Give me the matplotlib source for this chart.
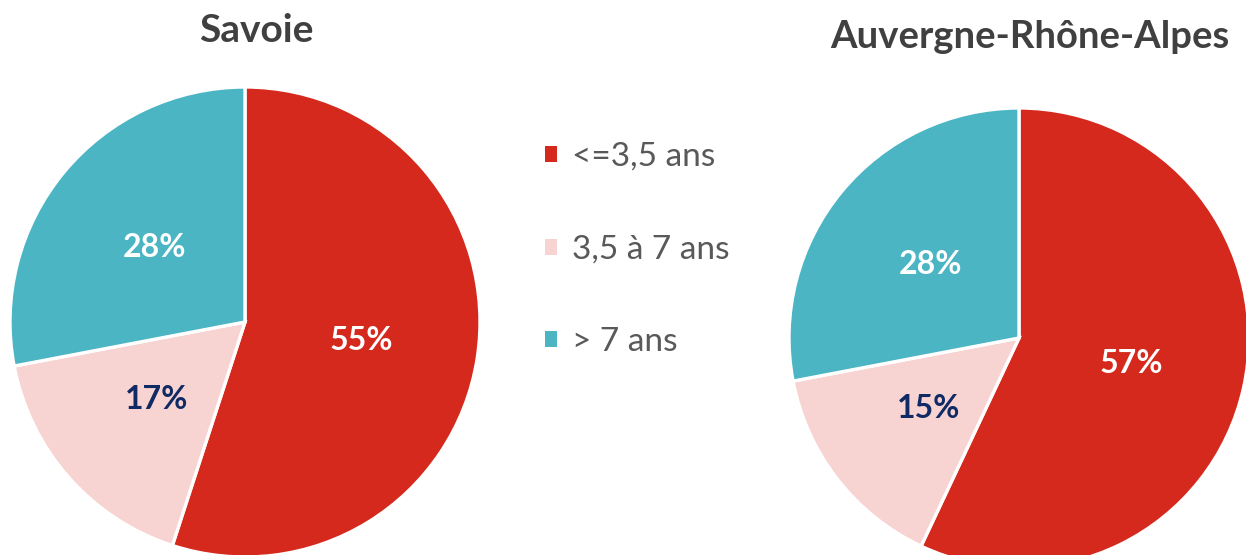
import matplotlib
matplotlib.use("Agg")
import matplotlib.pyplot as plt
from matplotlib.patches import Patch

plt.rcParams["font.family"] = ["Lato", "DejaVu Sans"]

# data
categories = ["<=3,5 ans", "3,5 à 7 ans", "> 7 ans"]
savoie = [55, 17, 28]
ara = [57, 15, 28]
titles = ["Savoie", "Auvergne-Rhône-Alpes"]

colors = ["#D4291C", "#F7D3D1", "#4BB5C4"]
label_colors = ["white", "#0F2A64", "white"]

W, H = 1246, 555


def px_axes(fig, cx, cy, r):
    # pixel centre (from top) + radius -> axes
    return fig.add_axes([(cx - r) / W, (H - cy - r) / H, 2 * r / W, 2 * r / H])


def draw_pie(ax, values):
    wedges, texts, autotexts = ax.pie(
        values, colors=colors, startangle=90, counterclock=False,
        autopct=lambda p: f"{p:.0f}%", pctdistance=0.5,
        wedgeprops=dict(edgecolor="white", linewidth=2.4),
        textprops=dict(fontsize=23, fontweight="bold"))
    for t, c in zip(autotexts, label_colors):
        t.set_color(c)
    ax.set_xlim(-1, 1)
    ax.set_ylim(-1, 1)
    ax.set_aspect("equal")
    ax.axis("off")
    return wedges


fig = plt.figure(figsize=(W / 100, H / 100), dpi=100)

ax1 = px_axes(fig, 245, 322, 235)
draw_pie(ax1, savoie)
ax2 = px_axes(fig, 1019, 338, 230)
draw_pie(ax2, ara)

fig.text(256 / W, 1 - 30 / H, titles[0], ha="center", va="center",
         fontsize=28, fontweight="bold", color="#404040")
fig.text(1030 / W, 1 - 37 / H, titles[1], ha="center", va="center",
         fontsize=27.5, fontweight="bold", color="#404040")

handles = [Patch(facecolor=c, edgecolor="none") for c in colors]
fig.legend(handles, categories, loc="upper left",
           bbox_to_anchor=(515 / W, 1 - 112 / H), frameon=False,
           fontsize=24, labelcolor="#595959", handlelength=0.36,
           handleheight=0.36, handletextpad=0.45, labelspacing=1.88)

fig.savefig("out.png", dpi=100)
